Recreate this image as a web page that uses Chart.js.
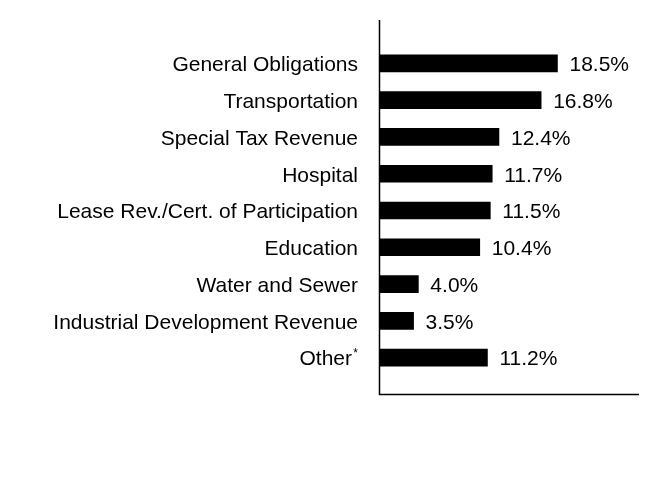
<!DOCTYPE html>
<html>
<head>
<meta charset="utf-8">
<script src="https://cdn.jsdelivr.net/npm/chart.js@4/dist/chart.umd.min.js"></script>
<style>
  html, body { margin: 0; padding: 0; background: #fff; }
  #wrap { width: 660px; height: 504px; }
</style>
</head>
<body>
<div id="wrap"><canvas id="chart"></canvas></div>
<script>
'use strict';
// sectors and their share of the portfolio (%)
let sectors = ['General Obligations', 'Transportation', 'Special Tax Revenue', 'Hospital',
  'Lease Rev./Cert. of Participation', 'Education', 'Water and Sewer',
  'Industrial Development Revenue', 'Other'];
let shares = [18.5, 16.8, 12.4, 11.7, 11.5, 10.4, 4.0, 3.5, 11.2];
let footnoted = [8]; // index of labels that carry a superscript asterisk

const fontFamily = '"Liberation Sans", Arial, sans-serif';

// draws the two axis lines, the category and value labels, and the footnote asterisk
const extras = {
  id: 'extras',
  afterDraw(chart) {
    const ctx = chart.ctx;
    const area = chart.chartArea;
    const yScale = chart.scales.y;
    ctx.save();
    ctx.strokeStyle = '#000';
    ctx.lineWidth = 1.5;
    ctx.beginPath();
    ctx.moveTo(area.left - 0.5, area.top - 25);
    ctx.lineTo(area.left - 0.5, area.bottom + 18.5);
    ctx.lineTo(area.right, area.bottom + 18.5);
    ctx.stroke();

    ctx.fillStyle = '#000';
    ctx.textBaseline = 'middle';

    sectors.forEach((name, i) => {
      const y = yScale.getPixelForTick(i) + 2;
      let right = area.left - 22;
      if (footnoted.includes(i)) {
        ctx.font = '12px ' + fontFamily;
        ctx.textAlign = 'right';
        ctx.fillText('*', right, y - 6);
        right -= 6;
      }
      ctx.font = '21px ' + fontFamily;
      ctx.textAlign = 'right';
      ctx.fillText(name, right, y);
    });

    ctx.font = '21px ' + fontFamily;
    ctx.textAlign = 'left';
    chart.getDatasetMeta(0).data.forEach((bar, i) => {
      ctx.fillText(shares[i].toFixed(1) + '%', bar.x + 12, bar.y + 2);
    });
    ctx.restore();
  }
};

let chart = new Chart(document.getElementById('chart'), {
  type: 'bar',
  data: {
    labels: sectors,
    datasets: [{
      data: shares,
      backgroundColor: '#000',
      borderWidth: 0,
      barThickness: 17
    }]
  },
  options: {
    indexAxis: 'y',
    responsive: true,
    maintainAspectRatio: false,
    animation: false,
    layout: { padding: { top: 45, bottom: 128, left: 0, right: 21 } },
    plugins: { legend: { display: false }, tooltip: { enabled: false } },
    scales: {
      x: {
        display: false,
        min: 0,
        max: 27
      },
      y: {
        grid: { display: false, drawTicks: false },
        border: { display: false },
        afterFit(scale) { scale.width = 380; },
        ticks: { display: false }
      }
    }
  },
  plugins: [extras]
});
</script>
</body>
</html>
